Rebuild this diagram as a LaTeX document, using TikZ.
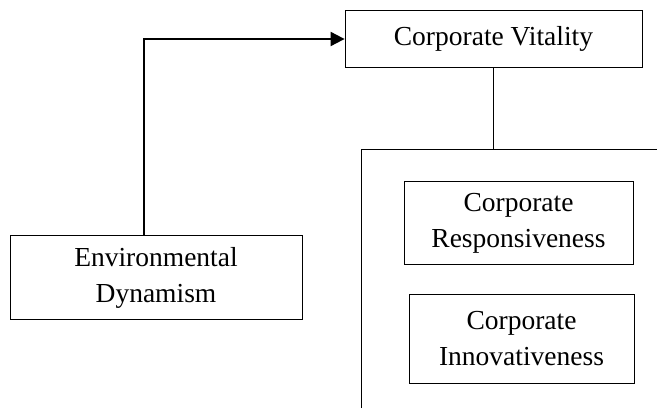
\documentclass[tikz,border=0pt]{standalone}
\usepackage{fontspec}
\setmainfont{Liberation Serif}
\usepackage{tikz}
\usetikzlibrary{arrows.meta, positioning, calc}
\tikzset{
  cvbox/.style={draw, line width=0.8pt, inner sep=0pt, align=center,
    font=\fontsize{27.5}{36}\selectfont},
  linkline/.style={line width=0.8pt},
  flowarrow/.style={-{Triangle[length=14pt,width=14pt]}, line width=2pt},
}

\begin{document}
\begin{tikzpicture}[x=1pt, y=1pt]
  \useasboundingbox (0,0) rectangle (657,408);
  \node[cvbox, minimum width=297pt, minimum height=57pt] (vit) at (493.5,369) {Corporate Vitality};
  \node[cvbox, minimum width=292pt, minimum height=84pt] (env) at (156,130.5) {Environmental\\Dynamism};
  \node[cvbox, minimum width=229pt, minimum height=83pt] (resp) at (518.5,185) {Corporate\\Responsiveness};
  \node[cvbox, minimum width=225pt, minimum height=89pt] (innov) at (521.5,69) {Corporate\\Innovativeness};
  % open frame round the two dimensions
  \coordinate (fcorner) at (361,258.5);
  \coordinate (fright) at (657,258.5);
  \coordinate (fbottom) at (361,0);
  \draw[linkline] (fbottom) -- (fcorner) -- (fright);
  \draw[linkline] (vit.south) -- (vit.south |- fcorner);
  % environment drives vitality
  \draw[flowarrow] ([xshift=-12pt]env.north) |- (vit.west);
\end{tikzpicture}
\end{document}
